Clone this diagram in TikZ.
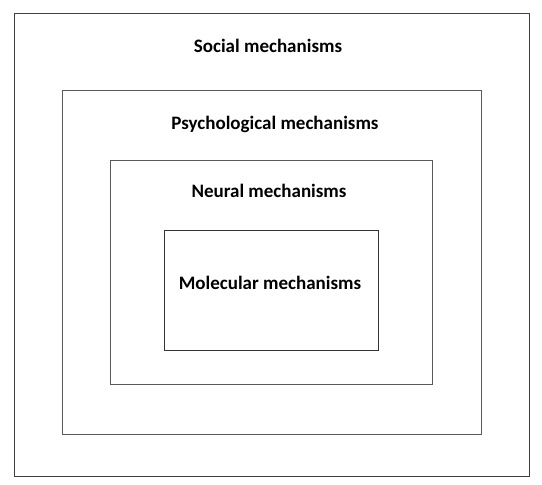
\documentclass[tikz,border=0pt]{standalone}
\usepackage{fontspec}
\setmainfont{Carlito}
\usepackage{tikz}
\usetikzlibrary{positioning}

\begin{document}
\begin{tikzpicture}[x=1pt, y=-1pt, level/.style={draw=black!65, line width=0.9pt, inner sep=0pt}, label/.style={font=\bfseries\fontsize{19}{22}\selectfont, anchor=base}]
      \useasboundingbox (0,0) rectangle (542,485);
      \node[level, draw=black!75, minimum width=515pt, minimum height=463pt] (social) at (271.5,244.5) {};
      \node[level, minimum width=419pt, minimum height=344pt] (psych) at (271.5,262) {};
      \node[level, minimum width=322pt, minimum height=224pt] (neural) at (271,272) {};
      \node[level, draw=black!80, minimum width=214pt, minimum height=120pt] (molec) at (271,290) {};
      \node[label] (social_t) at (268,52) {Social mechanisms};
      \node[label] (psych_t) at (275,129) {Psychological mechanisms};
      \node[label] (neural_t) at (269,197) {Neural mechanisms};
      \node[label] (molec_t) at (270,289) {Molecular mechanisms};
    \end{tikzpicture}
\end{document}
